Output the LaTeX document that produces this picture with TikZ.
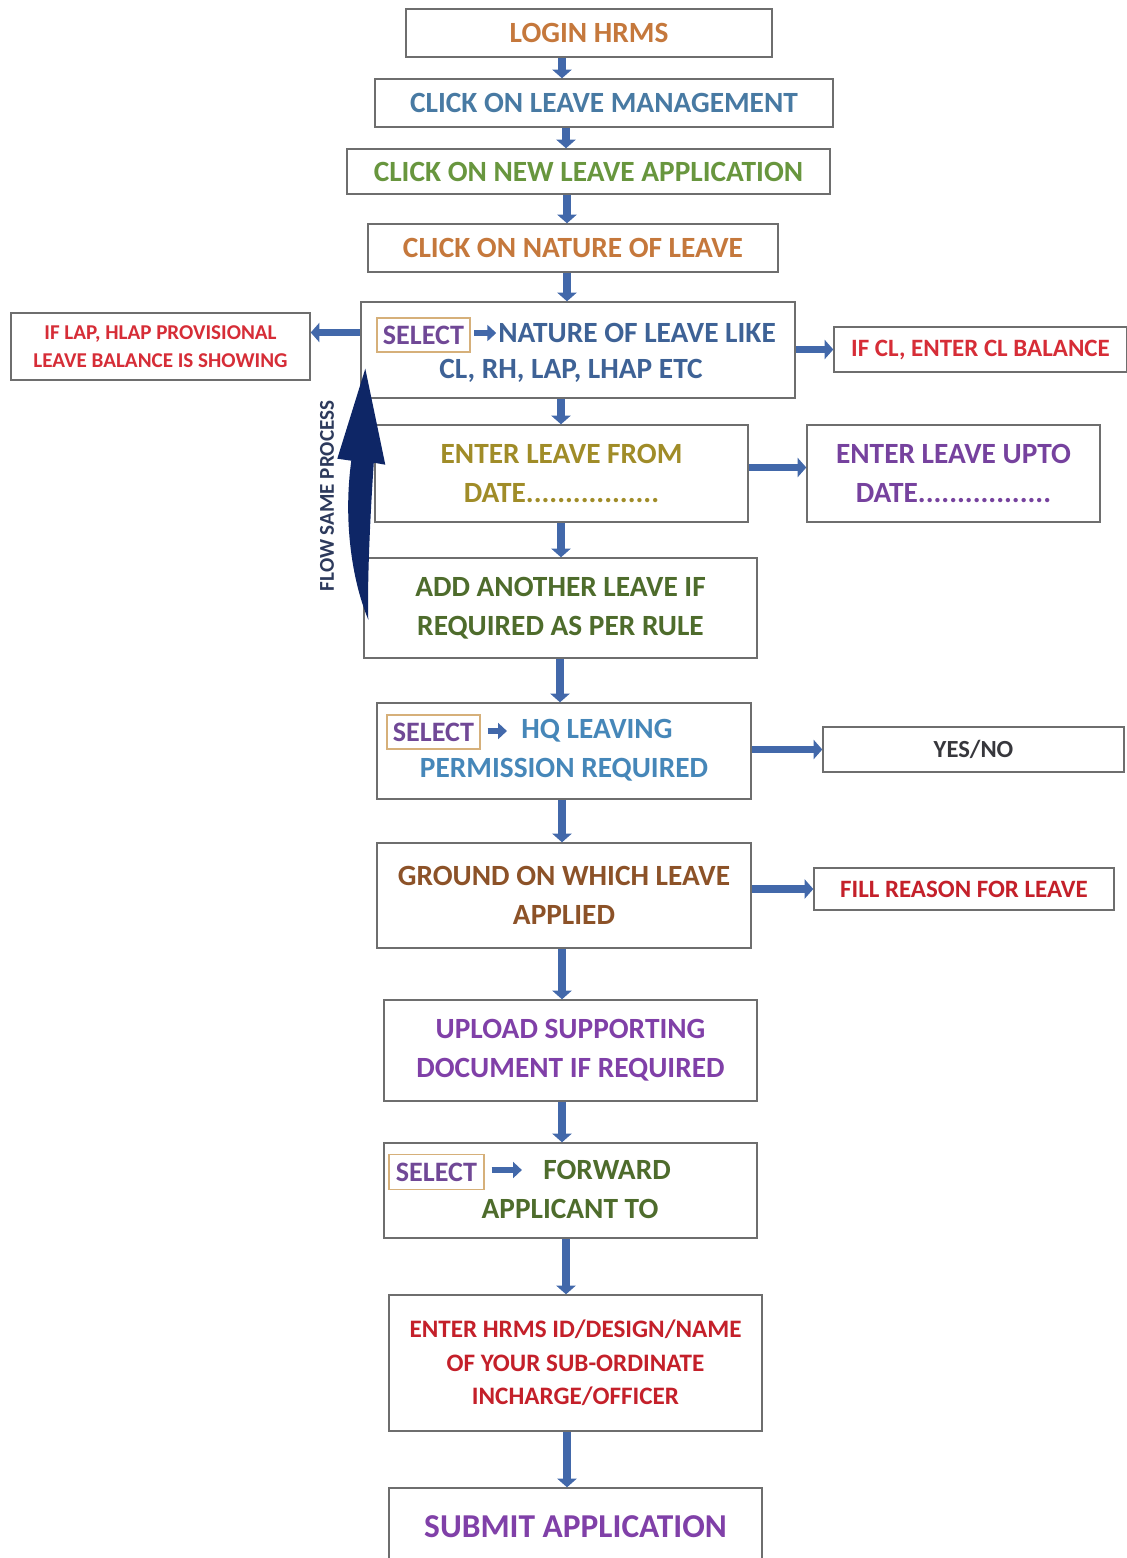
\documentclass[tikz,border=0pt]{standalone}
\usepackage{fontspec}
\setmainfont{Carlito}
\usetikzlibrary{positioning,arrows.meta,calc,shadows}
\definecolor{boxGray}{RGB}{110,110,110}
\definecolor{flowBlue}{RGB}{66,104,170}
\definecolor{flowNavy}{RGB}{14,38,102}
\definecolor{labelNavy}{RGB}{45,58,92}
\definecolor{cOrange}{RGB}{197,120,60}
\definecolor{cSteel}{RGB}{72,122,163}
\definecolor{cGreen}{RGB}{104,150,62}
\definecolor{cTagText}{RGB}{112,72,150}
\definecolor{cTagLine}{RGB}{214,176,122}
\definecolor{cNavyText}{RGB}{62,98,150}
\definecolor{cRed}{RGB}{214,45,55}
\definecolor{cRedDark}{RGB}{196,32,42}
\definecolor{cOlive}{RGB}{160,140,40}
\definecolor{cPurple}{RGB}{118,66,158}
\definecolor{cDkGreen}{RGB}{78,108,44}
\definecolor{cSky}{RGB}{70,135,185}
\definecolor{cDark}{RGB}{55,55,60}
\definecolor{cBrown}{RGB}{140,82,40}
\definecolor{cViolet}{RGB}{128,64,168}
\tikzset{
  >={Triangle[length=5pt,width=11pt]},
  stepBox/.style={draw=boxGray,line width=0.8pt,fill=white,align=center,inner sep=2pt,
    font=\bfseries\fontsize{16.7}{22}\selectfont,
    drop shadow={shadow xshift=0.8pt,shadow yshift=-0.8pt,opacity=0.25}},
  sideBox/.style={stepBox},
  stepText/.style={inner sep=0pt,font=\bfseries\fontsize{16.7}{22}\selectfont},
  tagBox/.style={draw=cTagLine,line width=0.8pt,inner sep=0pt,text=cTagText,
    minimum width=1.86cm,minimum height=0.68cm,font=\bfseries\fontsize{16}{20}\selectfont},
  flow/.style={->,draw=flowBlue,line width=4.5pt},
  tagArrow/.style={-{Triangle[length=5pt,width=9pt]},draw=flowBlue,line width=3.5pt},
}

\begin{document}
\begin{tikzpicture}

\useasboundingbox (0,0) rectangle (22.54,-31.16);

% ===== Main column =====
\node[stepBox, minimum width=7.32cm, minimum height=0.96cm, text=cOrange] (login) at (11.78,-0.66) {LOGIN HRMS};
\node[stepBox, minimum width=9.16cm, minimum height=0.96cm, text=cSteel] (mgmt) at (12.08,-2.06) {CLICK ON LEAVE MANAGEMENT};
\node[stepBox, minimum width=9.66cm, minimum height=0.90cm, text=cGreen] (newapp) at (11.77,-3.43) {CLICK ON NEW LEAVE APPLICATION};
\node[stepBox, minimum width=8.20cm, minimum height=0.96cm, text=cOrange] (nature) at (11.46,-4.96) {CLICK ON NATURE OF LEAVE};

% select nature of leave
\node[stepBox, minimum width=8.68cm, minimum height=1.92cm] (selnat) at (11.56,-7.00) {};
\node[tagBox] (selnatTag) at (8.47,-6.70) {SELECT};
\node[stepText, text=cNavyText, anchor=west] (selnatTxt) at (9.96,-6.66) {NATURE OF LEAVE LIKE};
\node[stepText, text=cNavyText] (selnatTxt2) at (11.42,-7.42) {CL, RH, LAP, LHAP ETC};
\draw[tagArrow, shorten <=2pt, shorten >=1pt] (selnatTag.east |- selnatTxt.west) -- (selnatTxt.west);

\node[stepBox, minimum width=7.46cm, minimum height=1.94cm, text=cOlive] (from) at (11.23,-9.47) {ENTER LEAVE FROM\\DATE.................};
\node[stepBox, minimum width=7.86cm, minimum height=2.00cm, text=cDkGreen] (addmore) at (11.21,-12.16) {ADD ANOTHER LEAVE IF\\REQUIRED AS PER RULE};

% select HQ leaving permission
\node[stepBox, minimum width=7.48cm, minimum height=1.92cm] (hq) at (11.28,-15.02) {};
\node[tagBox] (hqTag) at (8.67,-14.64) {SELECT};
\node[stepText, text=cSky, anchor=west] (hqTxt) at (10.42,-14.62) {HQ LEAVING};
\node[stepText, text=cSky] (hqTxt2) at (11.28,-15.40) {PERMISSION REQUIRED};
\draw[tagArrow, shorten <=4pt, shorten >=8pt] (hqTag.east |- hqTxt.west) -- (hqTxt.west);

\node[stepBox, minimum width=7.48cm, minimum height=2.10cm, text=cBrown] (ground) at (11.28,-17.91) {GROUND ON WHICH LEAVE\\APPLIED};
\node[stepBox, minimum width=7.46cm, minimum height=2.02cm, text=cViolet] (upload) at (11.41,-21.01) {UPLOAD SUPPORTING\\DOCUMENT IF REQUIRED};

% select forward applicant
\node[stepBox, minimum width=7.46cm, minimum height=1.90cm] (forward) at (11.41,-23.81) {};
\node[tagBox, minimum width=1.90cm, minimum height=0.70cm] (fwdTag) at (8.73,-23.44) {SELECT};
\node[stepText, text=cDkGreen, anchor=west] (fwdTxt) at (10.86,-23.40) {FORWARD};
\node[stepText, text=cDkGreen] (fwdTxt2) at (11.40,-24.18) {APPLICANT TO};
\draw[tagArrow, shorten <=4pt, shorten >=12pt] (fwdTag.east |- fwdTxt.west) -- (fwdTxt.west);

\node[stepBox, minimum width=7.46cm, minimum height=2.72cm, text=cRedDark, font=\bfseries\fontsize{14.3}{19}\selectfont] (hrmsid) at (11.51,-27.26) {ENTER HRMS ID/DESIGN/NAME\\OF YOUR SUB-ORDINATE\\INCHARGE/OFFICER};
\node[stepBox, minimum width=7.46cm, minimum height=1.56cm, text=cViolet, font=\bfseries\fontsize{19}{22}\selectfont] (submit) at (11.51,-30.54) {SUBMIT APPLICATION};

% ===== Side boxes =====
\node[sideBox, minimum width=5.98cm, minimum height=1.34cm, text=cRed, font=\bfseries\fontsize{12}{16}\selectfont] (lap) at (3.21,-6.93) {IF LAP, HLAP PROVISIONAL\\LEAVE BALANCE IS SHOWING};
\node[sideBox, minimum width=5.86cm, minimum height=0.90cm, text=cRed, font=\bfseries\fontsize{14.2}{16}\selectfont] (cl) at (19.61,-6.99) {IF CL, ENTER CL BALANCE};
\node[sideBox, minimum width=5.86cm, minimum height=1.94cm, text=cPurple] (upto) at (19.07,-9.47) {ENTER LEAVE UPTO\\DATE.................};
\node[sideBox, minimum width=6.02cm, minimum height=0.90cm, text=cDark, font=\bfseries\fontsize{14}{16}\selectfont] (yesno) at (19.47,-14.99) {YES/NO};
\node[sideBox, minimum width=6.00cm, minimum height=0.84cm, text=cRedDark, font=\bfseries\fontsize{14.2}{16}\selectfont] (fill) at (19.28,-17.78) {FILL REASON FOR LEAVE};

% ===== Connections =====
\foreach \a/\b/\x in {login/mgmt/11.24, mgmt/newapp/11.32, newapp/nature/11.34, nature/selnat/11.34,
  selnat/from/11.22, from/addmore/11.22, addmore/hq/11.20, hq/ground/11.24, ground/upload/11.24,
  upload/forward/11.24, forward/hrmsid/11.32, hrmsid/submit/11.34} {
  \coordinate (ax) at (\x,0);
  \draw[flow] (ax |- \a.south) -- (ax |- \b.north);
}
\coordinate (lapIn) at ($(lap.east)+(0,0.28)$);
\draw[flow] (lapIn -| selnat.west) -- (lapIn);
\draw[flow] (selnat.east |- cl.west) -- (cl.west);
\draw[flow] ($(from.east)+(0,0.12)$) -- ($(upto.west)+(0,0.12)$);
\draw[flow] (hq.east |- yesno.west) -- (yesno.west);
\draw[flow] (ground.east |- fill.west) -- (fill.west);

% ===== Loop back arrow =====
\coordinate (flowTip) at ($(selnat.south west)+(0.10,0.60)$);
\fill[flowNavy] (flowTip) -- ($(flowTip)+(0.40,-1.92)$) -- ($(flowTip)+(0.17,-1.88)$)
  .. controls ($(flowTip)+(0.08,-3.20)$) and ($(flowTip)+(0.04,-4.40)$) .. ($(flowTip)+(0.06,-5.02)$)
  .. controls ($(flowTip)+(-0.28,-4.20)$) and ($(flowTip)+(-0.44,-3.00)$) .. ($(flowTip)+(-0.28,-1.84)$)
  -- ($(flowTip)+(-0.56,-1.80)$) -- cycle;
\node[rotate=90, text=labelNavy, font=\bfseries\fontsize{12}{14}\selectfont] (loopLbl) at (6.54,-9.92) {FLOW SAME PROCESS};

\end{tikzpicture}
\end{document}
